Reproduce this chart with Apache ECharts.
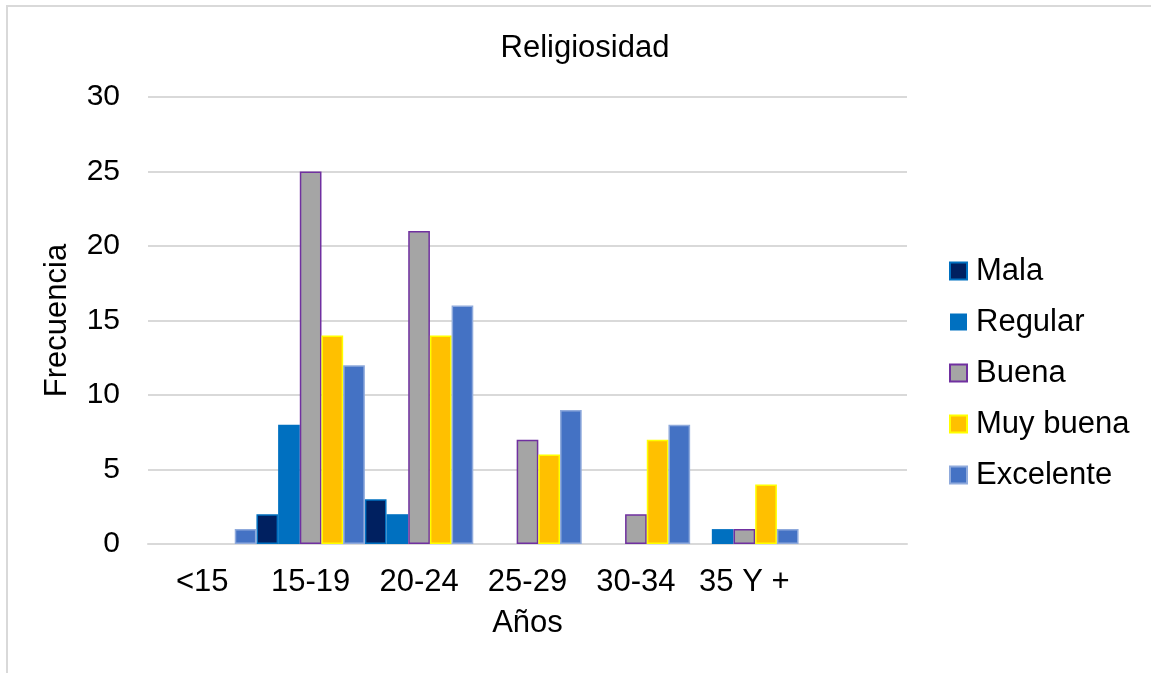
<!DOCTYPE html>
<html>
<head>
<meta charset="utf-8">
<script src="https://cdn.jsdelivr.net/npm/echarts@6/dist/echarts.min.js"></script>
<style>
html,body{margin:0;padding:0;background:#fff;}
#chart{width:1151px;height:673px;position:absolute;left:0;top:0;}
#frame{position:absolute;left:6px;top:5px;width:1200px;height:700px;border:2px solid #d9d9d9;box-sizing:border-box;pointer-events:none;}
</style>
</head>
<body>
<div id="chart"></div>
<div id="frame"></div>
<script>
const categories = ['<15', '15-19', '20-24', '25-29', '30-34', '35 Y +', ''];
const mala      = [0, 2, 3, 0, 0, 0, null];
const regular   = [0, 8, 2, 0, 0, 1, null];
const buena     = [0, 25, 21, 7, 2, 1, null];
const muyBuena  = [0, 14, 14, 6, 7, 4, null];
const excelente = [1, 12, 16, 9, 8, 1, null];
const yTicks = { min: 0, max: 30, interval: 5 };

const font = 'Liberation Sans, Arial, sans-serif';
const chart = echarts.init(document.getElementById('chart'));
function s(name, data, color, border) {
  return {
    name, type: 'bar',
    data: data.map(v => v === 0 ? { value: 0, itemStyle: { borderWidth: 0 } } : v),
    barGap: '0%', barCategoryGap: '0%',
    itemStyle: { color, borderColor: border || color, borderWidth: border ? 1.5 : 0 },
    emphasis: { disabled: true }
  };
}
chart.setOption({
  animation: false,
  textStyle: { fontFamily: font },
  title: {
    text: 'Religiosidad', left: 580, top: 28, textAlign: 'center',
    textStyle: { fontFamily: font, fontSize: 31, fontWeight: 'normal', color: '#000' }
  },
  grid: { left: 148, right: 244, top: 97, bottom: 129, containLabel: false },
  legend: {
    orient: 'vertical', left: 944, top: 250,
    icon: 'rect',
    itemWidth: 17, itemHeight: 17, itemGap: 19,
    textStyle: { fontFamily: font, fontSize: 31, color: '#000', lineHeight: 32, padding: [0, 0, 0, 4] },
    data: ['Mala', 'Regular', 'Buena', 'Muy buena', 'Excelente']
  },
  xAxis: {
    type: 'category', data: categories,
    name: 'Años', nameLocation: 'middle', nameGap: 64,
    nameTextStyle: { fontFamily: font, fontSize: 31, color: '#000', verticalAlign: 'top' },
    axisLine: { lineStyle: { color: '#d9d9d9', width: 2 } },
    axisTick: { show: false },
    axisLabel: { fontFamily: font, fontSize: 31, color: '#000', margin: 23, interval: 0, hideOverlap: false }
  },
  yAxis: {
    type: 'value', min: yTicks.min, max: yTicks.max, interval: yTicks.interval,
    name: 'Frecuencia', nameLocation: 'middle', nameGap: 75, nameRotate: 90,
    nameTextStyle: { fontFamily: font, fontSize: 31, color: '#000' },
    axisLine: { show: false }, axisTick: { show: false },
    axisLabel: { fontFamily: font, fontSize: 30, color: '#000', margin: 28 },
    splitLine: { lineStyle: { color: '#d9d9d9', width: 2 } }
  },
  series: [
    s('Mala', mala, '#002060', '#0070C0'),
    s('Regular', regular, '#0070C0', null),
    s('Buena', buena, '#A5A5A5', '#7030A0'),
    s('Muy buena', muyBuena, '#FFC000', '#FFFF00'),
    s('Excelente', excelente, '#4472C4', '#8FAADC')
  ]
});
</script>
</body>
</html>
